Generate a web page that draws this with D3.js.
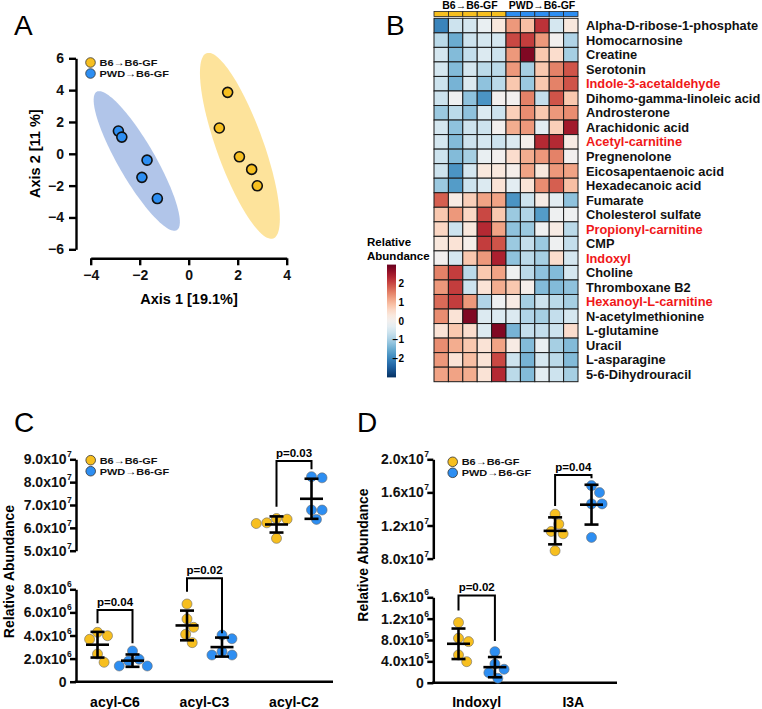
<!DOCTYPE html>
<html><head><meta charset="utf-8">
<script src="https://cdn.jsdelivr.net/npm/d3@7"></script>
<style>
body{margin:0;background:#fff}
svg{display:block;font-family:"Liberation Sans",Arial,Helvetica,sans-serif}
</style></head><body>
<svg id="c" width="762" height="709"></svg>
<script>
// ================= DATA =================
const groupNames = ["B6", "PWD"];
const groupLabels = ["B6→B6-GF", "PWD→B6-GF"];
// Panel A – PCoA coordinates
const b6Axis1 = [1.59, 1.25, 2.07, 2.57, 2.80];
const b6Axis2 = [3.86, 1.62, -0.19, -0.98, -2.01];
const pwdAxis1 = [-2.87, -2.73, -1.70, -1.91, -1.28];
const pwdAxis2 = [1.43, 1.05, -0.40, -1.48, -2.81];
// ellipses: centre x, centre y, semi-axis u (x,y), semi-axis v (x,y) in data units
const b6Ellipse = [2.09, 0.50, 1.36, -5.82, 0.90, 0.50];
const pwdEllipse = [-2.12, -0.45, 1.635, -4.35, 0.65, 0.58];
const aXTicks = [-4, -2, 0, 2, 4];
const aYTicks = [-6, -4, -2, 0, 2, 4, 6];

// Panel B – heatmap
const metabolites = ["Alpha-D-ribose-1-phosphate","Homocarnosine","Creatine","Serotonin","Indole-3-acetaldehyde",
  "Dihomo-gamma-linoleic acid","Androsterone","Arachidonic acid","Acetyl-carnitine","Pregnenolone",
  "Eicosapentaenoic acid","Hexadecanoic acid","Fumarate","Cholesterol sulfate","Propionyl-carnitine",
  "CMP","Indoxyl","Choline","Thromboxane B2","Hexanoyl-L-carnitine","N-acetylmethionine","L-glutamine",
  "Uracil","L-asparagine","5-6-Dihydrouracil"];
const highlighted = ["Indole-3-acetaldehyde","Acetyl-carnitine","Propionyl-carnitine","Indoxyl","Hexanoyl-L-carnitine"];
const sampleGroups = ["B6","B6","B6","B6","B6","PWD","PWD","PWD","PWD","PWD"];
const heatValues = [
  [-2.0,-0.6,-0.5,-0.2, 0.3,  1.3, 0.9, 2.2,-0.5, 0.3],
  [-0.8,-1.5,-0.6,-0.5,-0.5,  2.0, 2.1, 1.3, 0.0,-0.9],
  [-0.5,-1.3,-0.7,-0.4,-0.6,  1.3, 2.8, 0.8, 0.5,-1.0],
  [-0.5,-1.3,-0.5,-0.8,-0.8,  1.3,-1.0, 0.8, 1.5, 1.9],
  [-0.6,-1.4,-0.4,-1.2,-0.8,  0.8,-1.1, 0.8, 1.5, 1.9],
  [-0.6,-0.1,-1.2,-1.8, 0.0,  0.0, 1.5,-0.7, 1.9, 0.8],
  [-1.1,-0.8,-1.2,-0.4,-0.6,  0.7, 1.4, 0.8, 1.3, 1.4],
  [-0.5,-1.2,-0.6,-0.6, 0.0,  1.1, 1.3,-0.3, 0.7, 2.5],
  [-0.5,-1.3,-0.6,-0.5,-0.6, -0.4, 0.1, 2.3, 2.3, 0.2],
  [-0.6,-1.3,-1.0,-0.2, 0.0,  0.5, 1.1, 1.3, 1.5, 0.0],
  [-0.6,-1.8,-0.5, 0.3, 0.3,  0.1, 1.2, 0.3, 1.3, 1.2],
  [-1.1,-1.7,-0.6,-0.4, 0.4, -0.3, 0.4, 1.4, 1.8, 0.9],
  [ 1.8, 0.2, 0.7, 1.2, 1.2, -1.8,-0.6, 0.2,-0.3,-1.2],
  [ 0.8, 1.3, 0.6, 2.0, 0.8, -1.1,-0.9,-1.7,-0.1,-0.1],
  [ 0.6,-0.6, 0.3, 2.3, 1.2, -1.2,-1.1,-0.1, 0.2,-0.8],
  [ 0.3, 0.4, 0.1, 2.1, 1.9, -1.1,-0.7,-1.1,-0.1,-0.7],
  [ 0.0,-0.5, 0.8, 1.3, 2.4, -1.2,-0.8,-1.0, 0.5,-0.5],
  [ 1.5, 2.1,-0.8, 0.8, 1.2, -0.1,-0.8,-1.2,-1.3,-0.5],
  [ 1.3, 2.1,-0.6, 0.4, 1.1,  0.8, 0.1,-1.3,-1.3,-1.2],
  [ 1.7, 2.1, 1.3,-0.9,-0.1,  0.2,-1.0,-0.6,-0.8,-1.0],
  [ 1.4, 0.4, 2.8,-0.4,-0.4, -0.4,-0.9,-1.0,-0.7,-0.5],
  [ 0.4, 0.8, 0.5,-0.4, 2.8, -1.4,-0.7,-0.7,-0.6, 0.5],
  [ 1.4, 1.1, 0.8, 0.4, 1.2,  0.2,-1.3,-0.2,-1.0,-1.3],
  [ 1.3, 0.4, 0.9, 0.4, 2.0, -0.6,-1.4,-0.5,-0.8,-1.3],
  [ 1.2, 1.2, 1.1, 0.4, 2.3, -0.8,-1.3,-0.3,-0.6,-1.0]
];
const legendTicks = [2, 1, 0, -1, -2];
const colorDomain = [3, -3];

// Panel C – acyl-carnitines
const cCategories = ["acyl-C6", "acyl-C3", "acyl-C2"];
const cB6 = [
  [1.68e6, 4.28e6, 3.67e6, 3.98e6, 2.40e6],
  [6.73e6, 5.43e6, 4.71e6, 4.10e6, 3.38e6],
  [6.41e7, 6.38e7, 6.19e7, 6.22e7, 5.54e7]
];
const cPWD = [
  [2.66e6, 1.79e6, 1.94e6, 1.36e6, 1.36e6],
  [4.04e6, 3.72e6, 2.60e6, 2.31e6, 2.31e6],
  [8.24e7, 8.19e7, 6.78e7, 6.78e7, 6.37e7]
];
const cSegment = ["lower", "lower", "upper"];
const cPText = ["p=0.04", "p=0.02", "p=0.03"];
const cBracketTop = [6.21e6, 8.95e6, 8.93e7];
const cBracketLeft = [5.06e6, 7.79e6, 6.92e7];
const cBracketRight = [3.32e6, 4.19e6, 8.57e7];
const cLowerTicks = [0, 2e6, 4e6, 6e6, 8e6];
const cLowerLabels = ["0", "2.0x10^6", "4.0x10^6", "6.0x10^6", "8.0x10^6"];
const cUpperTicks = [5e7, 6e7, 7e7, 8e7, 9e7];
const cUpperLabels = ["5.0x10^7", "6.0x10^7", "7.0x10^7", "8.0x10^7", "9.0x10^7"];

// Panel D – indoles
const dCategories = ["Indoxyl", "I3A"];
const dB6 = [
  [1.127e6, 0.834e6, 0.770e6, 0.520e6, 0.394e6],
  [1.337e7, 1.217e7, 1.128e7, 1.100e7, 0.895e7]
];
const dPWD = [
  [0.582e6, 0.351e6, 0.252e6, 0.188e6, 0.083e6],
  [1.682e7, 1.598e7, 1.461e7, 1.461e7, 1.056e7]
];
const dSegment = ["lower", "upper"];
const dPText = ["p=0.02", "p=0.04"];
const dBracketTop = [1.634e6, 1.811e7];
const dBracketLeft = [1.352e6, 1.437e7];
const dBracketRight = [0.783e6, 1.771e7];
const dLowerTicks = [0, 4e5, 8e5, 1.2e6, 1.6e6];
const dLowerLabels = ["0", "4.0x10^5", "8.0x10^5", "1.2x10^6", "1.6x10^6"];
const dUpperTicks = [8e6, 1.2e7, 1.6e7, 2.0e7];
const dUpperLabels = ["8.0x10^7", "1.2x10^7", "1.6x10^7", "2.0x10^7"];

// ================= STYLE =================
const YEL = "#f7bf1f", BLU = "#2d8ef2";
const YEL_ELL = "#fde39b", BLU_ELL = "#b1c5e9";
const svg = d3.select("#c");
const BOLD = "bold";

function groupLegend(g, x, y1, y2) {
  const items = [[groupLabels[0], YEL, y1], [groupLabels[1], BLU, y2]];
  items.forEach(([nm, col, y]) => {
    g.append("circle").attr("cx", x).attr("cy", y).attr("r", 4.8)
      .attr("fill", col).attr("stroke", "#333").attr("stroke-width", 0.8);
    g.append("text").attr("transform", `translate(${x + 9},${y + 3.6}) scale(1.12,1)`)
      .attr("font-size", 9.8).attr("font-weight", BOLD).attr("fill", "#111").text(nm);
  });
}

function panelLetter(txt, x, y) {
  svg.append("text").attr("x", x).attr("y", y).attr("font-size", 28).text(txt);
}

// ================= PANEL A =================
(function () {
  const g = svg.append("g");
  const x = d3.scaleLinear().domain([-4, 4]).range([90.7, 286.7]);
  const y = d3.scaleLinear().domain([-6, 6]).range([249.3, 58.3]);
  function ellipsePath(e) {
    const pts = d3.range(0, 361, 3).map(a => {
      const t = a * Math.PI / 180;
      return [x(e[0] + Math.cos(t) * e[2] + Math.sin(t) * e[4]),
              y(e[1] + Math.cos(t) * e[3] + Math.sin(t) * e[5])];
    });
    return d3.line().curve(d3.curveLinearClosed)(pts);
  }
  g.append("path").attr("d", ellipsePath(pwdEllipse)).attr("fill", BLU_ELL);
  g.append("path").attr("d", ellipsePath(b6Ellipse)).attr("fill", YEL_ELL);

  const xa = g.append("g").attr("transform", "translate(0,258.3)")
    .call(d3.axisBottom(x).tickValues(aXTicks).tickSize(7).tickSizeOuter(0).tickPadding(5));
  const ya = g.append("g").attr("transform", "translate(76,0)")
    .call(d3.axisLeft(y).tickValues(aYTicks).tickSize(7).tickSizeOuter(0).tickPadding(5));
  [xa, ya].forEach(a => {
    a.selectAll("path,line").attr("stroke", "#000").attr("stroke-width", 2.4);
    a.selectAll("text").attr("font-size", 14).attr("font-weight", BOLD).attr("fill", "#111")
      .attr("font-family", "Liberation Sans, Arial, sans-serif");
  });
  g.append("text").attr("x", 189).attr("y", 304).attr("text-anchor", "middle")
    .attr("font-size", 14.5).attr("font-weight", BOLD).text("Axis 1 [19.1%]");
  g.append("text").attr("transform", "translate(40,153.7) rotate(-90)").attr("text-anchor", "middle")
    .attr("font-size", 14.5).attr("font-weight", BOLD).text("Axis 2 [11 %]");

  const pts = b6Axis1.map((v, i) => [v, b6Axis2[i], YEL])
    .concat(pwdAxis1.map((v, i) => [v, pwdAxis2[i], BLU]));
  g.selectAll("circle.pt").data(pts).join("circle").attr("class", "pt")
    .attr("cx", d => x(d[0])).attr("cy", d => y(d[1])).attr("r", 5)
    .attr("fill", d => d[2]).attr("stroke", "#111").attr("stroke-width", 1.6);
  groupLegend(g, 90.5, 62.5, 73.5);
})();
panelLetter("A", 14, 35);

// ================= PANEL B =================
(function () {
  const g = svg.append("g");
  const x = d3.scaleBand().domain(d3.range(10)).range([434, 578]);
  const y = d3.scaleBand().domain(metabolites).range([18.3, 381.7]);
  const color = d3.scaleSequential(d3.interpolateRdBu).domain(colorDomain);

  // column annotation bar
  g.selectAll("rect.ann").data(sampleGroups).join("rect").attr("class", "ann")
    .attr("x", (d, i) => x(i)).attr("y", 11.5).attr("width", x.bandwidth()).attr("height", 5)
    .attr("fill", d => d === "B6" ? YEL : BLU).attr("stroke", "#222").attr("stroke-width", 0.8);
  [[groupLabels[0], 0], [groupLabels[1], 5]].forEach(([nm, s]) => {
    g.append("text").attr("x", (x(s) + x(s + 4) + x.bandwidth()) / 2).attr("y", 9)
      .attr("text-anchor", "middle").attr("font-size", 10.5).attr("font-weight", BOLD).text(nm);
  });

  const cells = [];
  heatValues.forEach((row, r) => row.forEach((v, c) => cells.push({ r, c, v })));
  g.selectAll("rect.cell").data(cells).join("rect").attr("class", "cell")
    .attr("x", d => x(d.c)).attr("y", d => y(metabolites[d.r]))
    .attr("width", x.bandwidth()).attr("height", y.bandwidth())
    .attr("fill", d => color(d.v)).attr("stroke", "#1a1a1a").attr("stroke-width", 1);

  g.selectAll("text.lab").data(metabolites).join("text").attr("class", "lab")
    .attr("x", 586).attr("y", d => y(d) + y.bandwidth() / 2 + 4.6)
    .attr("font-size", 12.8).attr("font-weight", BOLD)
    .attr("fill", d => highlighted.includes(d) ? "#f01818" : "#111").text(d => d);

  // colour legend
  const ly = d3.scaleLinear().domain([3, -3]).range([264.6, 377.4]);
  const grad = svg.append("defs").append("linearGradient").attr("id", "hg")
    .attr("x1", 0).attr("x2", 0).attr("y1", 0).attr("y2", 1);
  d3.range(0, 1.001, 0.05).forEach(t => grad.append("stop").attr("offset", t)
    .attr("stop-color", color(ly.invert(264.6 + t * (377.4 - 264.6)))));
  g.append("rect").attr("x", 387).attr("y", ly(3)).attr("width", 9).attr("height", ly(-3) - ly(3)).attr("fill", "url(#hg)");
  g.selectAll("text.lt").data(legendTicks).join("text").attr("class", "lt")
    .attr("x", 404).attr("y", d => ly(d) + 3.6).attr("text-anchor", "end")
    .attr("font-size", 10).attr("font-weight", BOLD).text(d => String(d).replace("-", "−"));
  g.append("text").attr("x", 367).attr("y", 246).attr("font-size", 11.5).attr("font-weight", BOLD).text("Relative");
  g.append("text").attr("x", 367).attr("y", 260).attr("font-size", 11.5).attr("font-weight", BOLD).text("Abundance");
})();
panelLetter("B", 386, 35);

// ================= helpers for C / D =================
function supLabels(g, scale, ticks, labels, axisX) {
  ticks.forEach((v, i) => {
    const [m, e] = labels[i].split("^");
    g.append("text").attr("x", axisX - 9.5).attr("y", scale(v) + 5).attr("text-anchor", "end")
      .attr("font-size", 14).attr("font-weight", BOLD).attr("fill", "#111").text(m);
    if (e) g.append("text").attr("x", axisX - 9.0).attr("y", scale(v) - 2)
      .attr("font-size", 8.5).attr("font-weight", BOLD).attr("fill", "#111").text(e);
  });
}
function yAxisSeg(g, scale, ticks, labels, axisX) {
  const a = g.append("g").attr("transform", `translate(${axisX},0)`)
    .call(d3.axisLeft(scale).tickValues(ticks).tickSize(6).tickSizeOuter(0).tickFormat(""));
  a.selectAll("path,line").attr("stroke", "#000").attr("stroke-width", 2.5);
  supLabels(g, scale, ticks, labels, axisX);
}
function swarm(vals, ys, r) {
  const pts = vals.map(v => ({ v, y: ys(v) })).sort((a, b) => a.y - b.y);
  const placed = [];
  const d = 2 * r + 0.6;
  pts.forEach(p => {
    const cands = [0];
    placed.forEach(q => {
      const dy = Math.abs(q.y - p.y);
      if (dy < d) { const dx = Math.sqrt(d * d - dy * dy); cands.push(q.x + dx, q.x - dx); }
    });
    cands.sort((a, b) => Math.abs(a) - Math.abs(b));
    for (const c of cands) {
      if (placed.every(q => Math.hypot(q.x - c, q.y - p.y) >= d - 0.01)) { p.x = c; break; }
    }
    placed.push(p);
  });
  return placed;
}
function dotGroup(g, vals, cx, ys, col) {
  const pts = swarm(vals, ys, 5);
  g.selectAll(null).data(pts).join("circle")
    .attr("cx", d => cx + d.x).attr("cy", d => d.y).attr("r", 5)
    .attr("fill", col).attr("stroke", "#6b6b6b").attr("stroke-width", 0.6);
  const m = d3.mean(vals), s = d3.deviation(vals);
  const ln = (x1, y1, x2, y2) => g.append("line").attr("x1", x1).attr("y1", y1).attr("x2", x2).attr("y2", y2)
    .attr("stroke", "#000").attr("stroke-width", 2.6);
  ln(cx, ys(m - s), cx, ys(m + s));
  ln(cx - 11.5, ys(m), cx + 11.5, ys(m));
  ln(cx - 7, ys(m + s), cx + 7, ys(m + s));
  ln(cx - 7, ys(m - s), cx + 7, ys(m - s));
}
function bracket(g, xl, xr, yTop, yL, yR, txt) {
  g.append("path").attr("d", `M${xl},${yL}V${yTop}H${xr}V${yR}`).attr("fill", "none")
    .attr("stroke", "#000").attr("stroke-width", 2);
  g.append("text").attr("x", (xl + xr) / 2).attr("y", yTop - 4.3).attr("text-anchor", "middle")
    .attr("font-size", 11.5).attr("font-weight", BOLD).text(txt);
}

// ================= PANEL C =================
(function () {
  const g = svg.append("g");
  const axisX = 76;
  const lower = d3.scaleLinear().domain([0, 8e6]).range([681.7, 589.3]);
  const upper = d3.scaleLinear().domain([5e7, 9e7]).range([550.7, 459.3]);
  const xc = d3.scalePoint().domain(cCategories).range([115, 294]);
  const off = d3.scalePoint().domain(groupNames).range([-17.5, 17.5]);
  yAxisSeg(g, upper, cUpperTicks, cUpperLabels, axisX);
  yAxisSeg(g, lower, cLowerTicks, cLowerLabels, axisX);
  g.append("line").attr("x1", axisX - 1.25).attr("x2", 333).attr("y1", lower(0)).attr("y2", lower(0))
    .attr("stroke", "#000").attr("stroke-width", 2.5);
  cCategories.forEach((c, i) => {
    const ys = cSegment[i] === "lower" ? lower : upper;
    dotGroup(g, cB6[i], xc(c) + off("B6"), ys, YEL);
    dotGroup(g, cPWD[i], xc(c) + off("PWD"), ys, BLU);
    bracket(g, xc(c) + off("B6"), xc(c) + off("PWD"), ys(cBracketTop[i]), ys(cBracketLeft[i]), ys(cBracketRight[i]), cPText[i]);
    g.append("text").attr("x", xc(c)).attr("y", 706.7).attr("text-anchor", "middle")
      .attr("font-size", 14).attr("font-weight", BOLD).text(c);
  });
  g.append("text").attr("transform", "translate(14,571.5) rotate(-90)").attr("text-anchor", "middle")
    .attr("font-size", 14).attr("font-weight", BOLD).text("Relative Abundance");
  groupLegend(g, 90.7, 460.2, 471.2);
})();
panelLetter("C", 14, 431.7);

// ================= PANEL D =================
(function () {
  const g = svg.append("g");
  const axisX = 433.3;
  const lower = d3.scaleLinear().domain([0, 1.6e6]).range([682.7, 597.3]);
  const upper = d3.scaleLinear().domain([8e6, 2.0e7]).range([558.6, 459.3]);
  const xc = d3.scalePoint().domain(dCategories).range([476.7, 573.3]);
  const off = d3.scalePoint().domain(groupNames).range([-18.2, 18.2]);
  yAxisSeg(g, upper, dUpperTicks, dUpperLabels, axisX);
  yAxisSeg(g, lower, dLowerTicks, dLowerLabels, axisX);
  g.append("line").attr("x1", axisX - 1.25).attr("x2", 617).attr("y1", lower(0)).attr("y2", lower(0))
    .attr("stroke", "#000").attr("stroke-width", 2.5);
  dCategories.forEach((c, i) => {
    const ys = dSegment[i] === "lower" ? lower : upper;
    dotGroup(g, dB6[i], xc(c) + off("B6"), ys, YEL);
    dotGroup(g, dPWD[i], xc(c) + off("PWD"), ys, BLU);
    bracket(g, xc(c) + off("B6"), xc(c) + off("PWD"), ys(dBracketTop[i]), ys(dBracketLeft[i]), ys(dBracketRight[i]), dPText[i]);
    g.append("text").attr("x", xc(c)).attr("y", 706.7).attr("text-anchor", "middle")
      .attr("font-size", 14).attr("font-weight", BOLD).text(c);
  });
  g.append("text").attr("transform", "translate(368,555) rotate(-90)").attr("text-anchor", "middle")
    .attr("font-size", 14).attr("font-weight", BOLD).text("Relative Abundance");
  groupLegend(g, 452.7, 461.8, 472.8);
})();
panelLetter("D", 357, 431.7);
</script></body></html>
